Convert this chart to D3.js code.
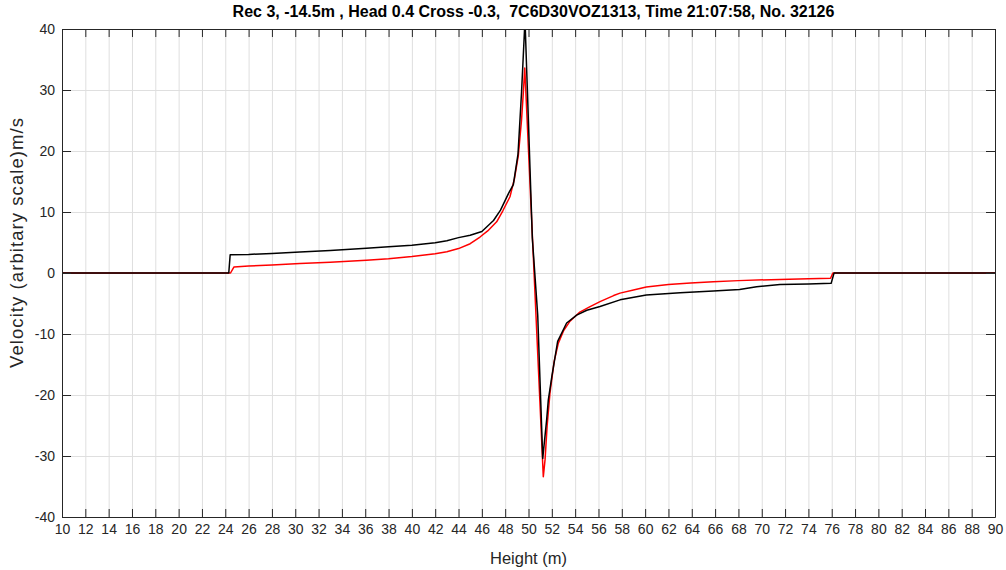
<!DOCTYPE html>
<html>
<head>
<meta charset="utf-8">
<script src="https://cdn.jsdelivr.net/npm/d3@7"></script>
<style>
  html, body { margin: 0; padding: 0; background: #fff; }
  svg { display: block; }
  text { font-family: "Liberation Sans", Arial, Helvetica, sans-serif; }
</style>
</head>
<body>
<svg id="chart" width="1006" height="570"></svg>
<script>
// ---- data ----
const titleText = "Rec 3, -14.5m , Head 0.4 Cross -0.3,  7C6D30VOZ1313, Time 21:07:58, No. 32126";
const xLabel = "Height (m)";
const yLabel = "Velocity (arbitary scale)m/s";
const xTicks = d3.range(10, 91, 2);
const yTicks = [-40, -30, -20, -10, 0, 10, 20, 30, 40];

const blackHeight = [10, 24.3, 24.42, 26, 28, 30.4, 33, 36.1, 38, 40, 42, 43, 44, 45, 46, 47, 47.6, 48.3, 48.7, 49.1, 49.4, 49.7,
  50.33, 50.79, 51.22, 51.56, 51.7, 52.0, 52.5, 53.27, 54.13, 55.0, 56.13, 57.85, 60.1, 63, 65.85, 68.1, 69.56, 71.56, 74, 75.95, 76.2, 90];
const blackVel = [0, 0, 3.0, 3.05, 3.2, 3.45, 3.7, 4.05, 4.3, 4.55, 4.95, 5.3, 5.8, 6.2, 6.8, 8.6, 10.3, 13.1, 14.5, 19.5, 29.5, 41.5,
  5.7, -6.9, -30.4, -24, -20.8, -17, -11.2, -8.2, -6.9, -6.1, -5.5, -4.4, -3.6, -3.25, -2.95, -2.7, -2.25, -1.9, -1.8, -1.7, 0, 0];

const redHeight = [10, 24.45, 24.75, 26, 28, 30.4, 33, 36.1, 38, 40, 42, 43, 44, 45, 45.84, 46.5, 47.27, 47.8, 48.41, 48.8, 49.13, 49.4, 49.56, 49.68,
  51.27, 51.42, 51.6, 51.84, 52.2, 52.56, 53.0, 53.56, 54.4, 55.2, 56.13, 57.3, 57.85, 59, 60.1, 62, 63.9, 65.85, 68, 71.56, 74, 75.9, 76.1, 90];
const redVel = [0, 0, 1.0, 1.15, 1.3, 1.55, 1.75, 2.1, 2.35, 2.7, 3.15, 3.5, 4.0, 4.8, 5.9, 6.9, 8.4, 10.2, 12.5, 15.5, 19.3, 25, 29.7, 33.6,
  -33.4, -30.6, -25, -19.7, -14.5, -11.5, -9.5, -7.9, -6.4, -5.6, -4.7, -3.7, -3.3, -2.8, -2.3, -1.9, -1.65, -1.42, -1.25, -1.05, -0.95, -0.87, 0, 0];

// ---- layout ----
const svg = d3.select("#chart");
const L = 62, R = 995, T = 29, B = 517;
const x = d3.scaleLinear().domain([10, 90]).range([L, R]);
const y = d3.scaleLinear().domain([-40, 40]).range([B, T]);
const axisColor = "#262626";
const fmt = d => String(d);

svg.append("rect").attr("width", 1006).attr("height", 570).attr("fill", "#fff");

// grid
const grid = svg.append("g").attr("class", "grid");
grid.append("g").attr("transform", `translate(0,${B})`)
  .call(d3.axisBottom(x).tickValues(xTicks).tickSize(-(B - T)).tickFormat(""))
  .call(g => g.select(".domain").remove());
grid.append("g").attr("transform", `translate(${L},0)`)
  .call(d3.axisLeft(y).tickValues(yTicks).tickSize(-(R - L)).tickFormat(""))
  .call(g => g.select(".domain").remove());
grid.selectAll("line").attr("stroke", "#dfdfdf").attr("stroke-width", 1);

// clip
svg.append("clipPath").attr("id", "plotclip")
  .append("rect").attr("x", L).attr("y", T).attr("width", R - L).attr("height", B - T);

const line = d3.line().x(d => x(d[0])).y(d => y(d[1]));
const redData = redHeight.map((h, i) => [h, redVel[i]]);
const blackData = blackHeight.map((h, i) => [h, blackVel[i]]);

const plot = svg.append("g").attr("clip-path", "url(#plotclip)");
plot.append("path").datum(redData).attr("d", line)
  .attr("fill", "none").attr("stroke", "#ff0000").attr("stroke-width", 1.5).attr("stroke-linejoin", "round");
plot.append("path").datum(blackData).attr("d", line)
  .attr("fill", "none").attr("stroke", "#000000").attr("stroke-width", 1.5).attr("stroke-linejoin", "round");

// axes
function styleAxis(g) {
  g.selectAll(".domain").attr("stroke", axisColor).attr("stroke-width", 1);
  g.selectAll(".tick line").attr("stroke", axisColor).attr("stroke-width", 1);
  g.selectAll(".tick text").attr("fill", axisColor).attr("font-size", 14)
    .attr("font-family", "'Liberation Sans', Arial, Helvetica, sans-serif");
}
svg.append("g").attr("transform", `translate(0,${B})`)
  .call(d3.axisBottom(x).tickValues(xTicks).tickSizeInner(-8).tickSizeOuter(0).tickPadding(7).tickFormat(fmt))
  .call(styleAxis);
svg.append("g").attr("transform", `translate(0,${T})`)
  .call(d3.axisTop(x).tickValues(xTicks).tickSizeInner(-8).tickSizeOuter(0).tickFormat(""))
  .call(styleAxis);
svg.append("g").attr("transform", `translate(${L},0)`)
  .call(d3.axisLeft(y).tickValues(yTicks).tickSizeInner(-9).tickSizeOuter(0).tickPadding(7).tickFormat(fmt))
  .call(styleAxis);
svg.append("g").attr("transform", `translate(${R},0)`)
  .call(d3.axisRight(y).tickValues(yTicks).tickSizeInner(-9).tickSizeOuter(0).tickFormat(""))
  .call(styleAxis);

// texts
svg.append("text").attr("x", (L + R) / 2 + 5).attr("y", 17).attr("text-anchor", "middle")
  .attr("font-size", 16).attr("font-weight", "bold").attr("fill", "#000").style("white-space", "pre")
  .text(titleText);
svg.append("text").attr("x", (L + R) / 2).attr("y", 564).attr("text-anchor", "middle")
  .attr("font-size", 16.5).attr("fill", axisColor).text(xLabel);
svg.append("text").attr("transform", `translate(23,243) rotate(-90)`).attr("text-anchor", "middle")
  .attr("font-size", 18.5).attr("textLength", 250).attr("lengthAdjust", "spacing")
  .attr("fill", axisColor).text(yLabel);
</script>
</body>
</html>
